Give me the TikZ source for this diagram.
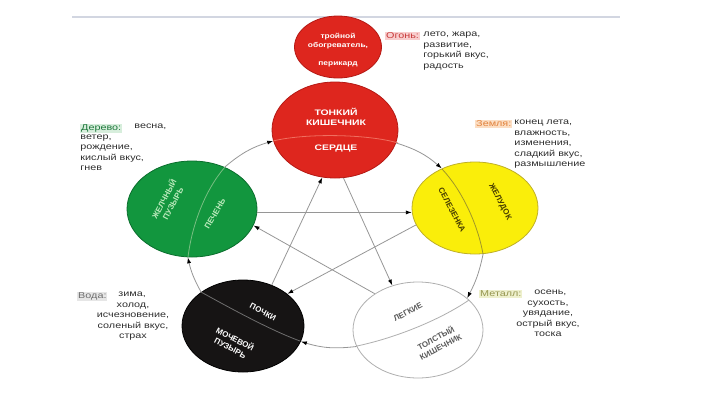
\documentclass[tikz,border=0pt]{standalone}
\usepackage{fontspec}
\setmainfont{Liberation Sans}
\usetikzlibrary{shapes.geometric,arrows.meta}

\definecolor{firered}{RGB}{222,38,30}
\definecolor{fireline}{RGB}{180,25,20}
\definecolor{woodgreen}{RGB}{18,150,62}
\definecolor{woodline}{RGB}{10,110,45}
\definecolor{earthyellow}{RGB}{250,238,10}
\definecolor{earthline}{RGB}{190,175,40}
\definecolor{waterblack}{RGB}{22,20,20}
\definecolor{metalline}{RGB}{175,175,175}
\definecolor{ringgray}{RGB}{150,150,150}
\definecolor{notegray}{RGB}{45,45,45}
\definecolor{topline}{RGB}{210,214,225}

\tikzset{every picture/.style={line width=0.75pt}}

\begin{document}
\begin{tikzpicture}[x=1pt,y=1pt,yscale=-1,xscale=1,
    organ/.style={ellipse, line width=0.8pt, inner sep=0pt},
    ring/.style={draw=ringgray, line width=0.8pt, -{Latex[length=6pt,width=4pt,color=black]}},
    divider/.style={line width=0.8pt},
    inlabel/.style={font=\bfseries\fontsize{8}{10}\selectfont, align=center, inner sep=0pt},
    note/.style={font=\fontsize{8.5}{10.5}\selectfont, text=notegray, align=left, inner sep=0pt, xscale=1.27},
    tag/.style={font=\fontsize{8.5}{10.5}\selectfont, inner sep=0.6pt, xscale=1.27}]
        \useasboundingbox (0,0) rectangle (720,405);

        %Straight Lines (top rule)
        \draw [color=topline, line width=1.5pt] (72,17) -- (620,17) ;

        %Shape: Ellipses
        \node [organ, fill=firered, draw=fireline, minimum width=87, minimum height=62] (pericard) at (338,47) {};
        \node [organ, fill=firered, draw=fireline, minimum width=126, minimum height=96] (heart) at (335,130) {};
        \node [organ, fill=woodgreen, draw=woodline, minimum width=130, minimum height=96] (liver) at (192,209) {};
        \node [organ, fill=earthyellow, draw=earthline, minimum width=126, minimum height=92] (spleen) at (475,208) {};
        \node [organ, fill=waterblack, draw=black, minimum width=122, minimum height=92] (kidney) at (243,326) {};
        \node [organ, fill=white, draw=metalline, minimum width=130, minimum height=96] (lung) at (418,330) {};

        %Curves inside the ellipses
        \draw [divider, color={rgb,255:red,240;green,110;blue,95}] (273,141) .. controls (305,133) and (368,134) .. (398,143) ;
        \draw [divider, color={rgb,255:red,120;green,190;blue,130}] (188,257) .. controls (192,225) and (205,190) .. (225,167) ;
        \draw [divider, color={rgb,255:red,160;green,150;blue,40}] (442,169) .. controls (462,190) and (478,225) .. (483,254) ;
        \draw [divider, color=metalline] (469,300) .. controls (440,320) and (395,338) .. (357,346) ;
        \draw [divider, color={rgb,255:red,110;green,110;blue,110}] (300,341) .. controls (270,330) and (230,308) .. (201,292) ;

        %Outer cycle
        \draw [ring] (liver.52) to[bend right=12] (heart.190) ;
        \draw [ring] (heart.-12) to[bend right=12] (spleen.130) ;
        \draw [ring] (spleen.-80) to[bend right=8] (lung.33) ;
        \draw [ring] (lung.195) to[bend right=12] (kidney.-15) ;
        \draw [ring] (kidney.141) to[bend right=8] (liver.-95) ;

        %Inner star
        \draw [ring] (liver.-3) -- (spleen.184) ;
        \draw [ring] (spleen.196) -- (kidney.36) ;
        \draw [ring] (kidney.55) -- (heart.-105) ;
        \draw [ring] (heart.-80) -- (lung.120) ;
        \draw [ring] (lung.140) -- (liver.-15) ;

        % Text Node
        \node [inlabel, text=white, font=\bfseries\fontsize{7}{9.5}\selectfont, xscale=1.2] (warmer) at (338,41) {тройной\\обогреватель,};
        \node [inlabel, text=white, font=\bfseries\fontsize{7}{9.5}\selectfont, xscale=1.2] (pericardtxt) at (338,64) {перикард};
        \node [inlabel, text=white, xscale=1.3] (intestine) at (336,117) {ТОНКИЙ\\КИШЕЧНИК};
        \node [inlabel, text=white, xscale=1.3] (hearttxt) at (336,148) {СЕРДЦЕ};
        \node [inlabel, text={rgb,255:red,190;green,235;blue,190}, rotate=62] (gallbladder) at (168,201) {ЖЕЛЧНЫЙ\\ПУЗЫРЬ};
        \node [inlabel, text={rgb,255:red,190;green,235;blue,190}, rotate=60] (livertxt) at (215,214) {ПЕЧЕНЬ};
        \node [inlabel, text={rgb,255:red,70;green,60;blue,0}, rotate=-62] (spleentxt) at (452,210) {СЕЛЕЗЕНКА};
        \node [inlabel, text={rgb,255:red,70;green,60;blue,0}, rotate=-62] (stomach) at (500,202) {ЖЕЛУДОК};
        \node [inlabel, text=white, rotate=-28] (kidneytxt) at (263,312) {ПОЧКИ};
        \node [inlabel, text=white, rotate=-28] (bladder) at (233,343) {МОЧЕВОЙ\\ПУЗЫРЬ};
        \node [inlabel, text={rgb,255:red,90;green,90;blue,90}, rotate=28] (lungtxt) at (408,312) {ЛЕГКИЕ};
        \node [inlabel, text={rgb,255:red,90;green,90;blue,90}, rotate=28] (colon) at (438,342) {ТОЛСТЫЙ\\КИШЕЧНИК};

        % Text Node (fire)
        \node [tag, anchor=north west, fill={rgb,255:red,248;green,205;blue,205}, text={rgb,255:red,200;green,60;blue,60}] (firetag) at (385,32) {Огонь:};
        \node [note, anchor=north west] (firenote) at (423,32) {лето, жара,\\развитие,\\горький вкус,\\радость};
        % Text Node (earth)
        \node [tag, anchor=north west, fill={rgb,255:red,252;green,222;blue,195}, text={rgb,255:red,225;green,130;blue,60}] (earthtag) at (475,120) {Земля:};
        \node [note, anchor=north west] (earthnote) at (514,120) {конец лета,\\влажность,\\изменения,\\сладкий вкус,\\размышление};
        % Text Node (wood)
        \node [tag, anchor=north west, fill={rgb,255:red,215;green,238;blue,220}, text={rgb,255:red,30;green,120;blue,60}] (woodtag) at (80,124) {Дерево:};
        \node [note, anchor=north west] (woodfirst) at (134,124) {весна,};
        \node [note, anchor=north west] (woodnote) at (80,134.5) {ветер,\\рождение,\\кислый вкус,\\гнев};
        % Text Node (water)
        \node [tag, anchor=north west, fill={rgb,255:red,230;green,230;blue,230}, text={rgb,255:red,110;green,110;blue,110}] (watertag) at (77,292) {Вода:};
        \node [note, anchor=north west] (waterfirst) at (118,292) {зима,};
        \node [note, anchor=north, align=center] (waternote) at (133,302.5) {холод,\\исчезновение,\\соленый вкус,\\страх};
        % Text Node (metal)
        \node [tag, anchor=north west, fill={rgb,255:red,238;green,240;blue,205}, text={rgb,255:red,150;green,150;blue,80}] (metaltag) at (479,290) {Металл:};
        \node [note, anchor=north west] (metalfirst) at (534,290) {осень,};
        \node [note, anchor=north, align=center] (metalnote) at (548,300.5) {сухость,\\увядание,\\острый вкус,\\тоска};

    \end{tikzpicture}
\end{document}
